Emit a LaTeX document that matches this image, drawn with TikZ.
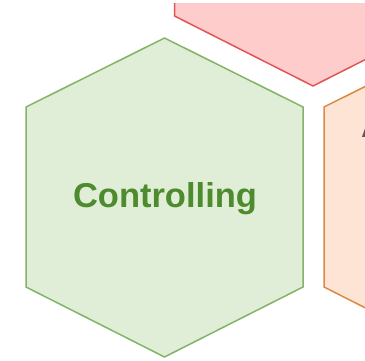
\documentclass[tikz,border=0pt]{standalone}
\usepackage{fontspec}
\setmainfont{Liberation Sans}
\definecolor{greenfill}{HTML}{E1EED7}
\definecolor{greenline}{HTML}{82B366}
\definecolor{greentext}{HTML}{4E8A2E}
\definecolor{redfill}{HTML}{FFCCCC}
\definecolor{redline}{HTML}{E05555}
\definecolor{orangefill}{HTML}{FDE4D5}
\definecolor{orangeline}{HTML}{DB8A46}
\definecolor{orangetext}{HTML}{5E5A58}
\tikzset{
  cell/.style={line width=1.5pt, line join=miter},
  greencell/.style={cell, draw=greenline, fill=greenfill},
  redcell/.style={cell, draw=redline, fill=redfill},
  orangecell/.style={cell, draw=orangeline, fill=orangefill},
  label/.style={font=\bfseries\fontsize{34.5}{40}\selectfont, inner sep=0pt},
}
% hexagon with horizontal centre cx: half width 138.5, flanks 107..287, tips 38 / 357 (shifted by dy)
\newcommand{\hexcell}[3]{%
  \path[#1] (#2,38+#3) -- (#2+138.5,107+#3) -- (#2+138.5,287+#3) -- (#2,357+#3)
    -- (#2-138.5,287+#3) -- (#2-138.5,107+#3) -- cycle;}
\begin{document}
\begin{tikzpicture}[x=1pt, y=-1pt]
  \useasboundingbox (0,0) rectangle (365,361);
  \begin{scope}
    \clip (0,4) rectangle (365,361);
    \hexcell{redcell}{313}{-271}
    \hexcell{orangecell}{462.5}{0}
    \hexcell{greencell}{164.5}{0}
    \node[label, text=orangetext, anchor=base west] (orangelabel) at (361,138) {A};
  \end{scope}
  \node[label, text=greentext, anchor=base] (greenlabel) at (165,207.5) {Controlling};
\end{tikzpicture}
\end{document}
